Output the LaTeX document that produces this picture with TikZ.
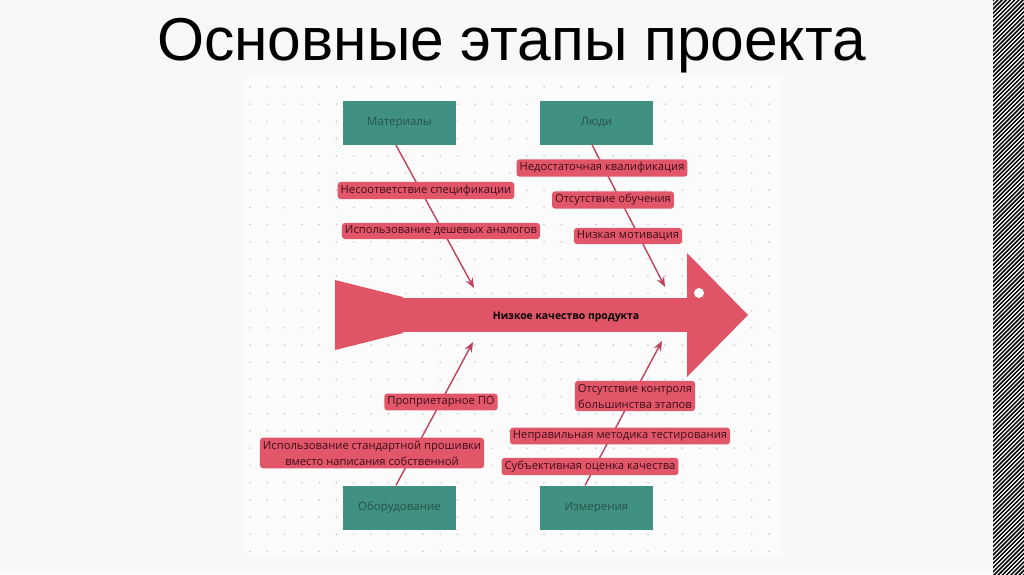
\documentclass[tikz,border=0pt]{standalone}
\usepackage{fontspec}
\setmainfont{Open Sans}
\newfontfamily\titlefont{Liberation Sans}
\usetikzlibrary{arrows.meta}
\definecolor{pagebg}{RGB}{248,248,248}
\definecolor{panelbg}{RGB}{252,251,252}
\definecolor{dotc}{RGB}{208,206,208}
\definecolor{teal}{RGB}{64,145,130}
\definecolor{tealtext}{RGB}{40,82,78}
\definecolor{fish}{RGB}{224,84,104}
\definecolor{lab}{RGB}{226,86,106}
\definecolor{labtext}{RGB}{62,14,24}
\definecolor{conn}{RGB}{190,66,92}
\tikzset{
  cause/.style={fill=teal, text=tealtext, minimum width=113pt, minimum height=44pt, inner sep=0pt, font=\fontsize{11.5}{13}\selectfont},
  lbl/.style={fill=lab, text=labtext, rounded corners=3pt, inner xsep=3pt, inner ysep=3pt, align=center, font=\fontsize{11.2}{16}\selectfont},
  connector/.style={draw=conn, line width=1.4pt, -{Stealth[length=10pt,width=8pt]}}
}
\begin{document}
\begin{tikzpicture}[x=1pt,y=-1pt]
\useasboundingbox (0,0) rectangle (1024,574);
\fill[pagebg] (0,0) rectangle (1024,574);
\fill[panelbg] (243,75) rectangle (782,557);
\foreach \i in {0,...,30}{
  \foreach \j in {0,...,27}{
    \fill[dotc] ({250+17.3*\i},{87+17.2*\j}) circle (1);
  }
}
% hatched strip
\begin{scope}
\clip (993,0) rectangle (1024,574);
\fill[white] (993,0) rectangle (1024,574);
\foreach \k in {0,...,175}{
  \draw[black, line width=1.5pt] (960,{4.2*\k}) -- (1040,{4.2*\k-80});
}
\end{scope}
% title
\node[anchor=base, font=\titlefont\fontsize{60.5}{62}\selectfont, text=black, inner sep=0pt] (title) at (511.5,60) {Основные этапы проекта};
% cause boxes
\node[cause] (mat) at (399.5,123) {Материалы};
\node[cause] (ppl) at (596.5,122.5) {Люди};
\node[cause] (equip) at (399.5,507.5) {Оборудование};
\node[cause] (meas) at (596.5,507.5) {Измерения};
% fish
\fill[fish] (335,280) -- (403,297) -- (403,333) -- (335,350) -- cycle;
\fill[fish] (402,298) rectangle (688,332);
\fill[fish] (687,253) -- (748,315) -- (687,377) -- cycle;
\fill[white] (699,293) circle (5);
\node[font=\bfseries\fontsize{10.4}{12}\selectfont, text=black] (effect) at (566,317) {Низкое качество продукта};
% arrow tips
\coordinate (tA) at (474,288);
\coordinate (tB) at (665,287);
\coordinate (tC) at (473,342);
\coordinate (tD) at (662,341);
\draw[connector] ([xshift=-3.5pt]mat.south) -- (tA);
\draw[connector] ([xshift=-4.5pt]ppl.south) -- (tB);
\draw[connector] ([xshift=-3.5pt]equip.north) -- (tC);
\draw[connector] ([xshift=-11.5pt]meas.north) -- (tD);
% labels
\node[lbl] (l1) at (426,190.5) {Несоответствие спецификации};
\node[lbl] (l2) at (441,231) {Использование дешевых аналогов};
\node[lbl] (l3) at (602,168) {Недостаточная квалификация};
\node[lbl] (l4) at (613,200) {Отсутствие обучения};
\node[lbl] (l5) at (628,236) {Низкая мотивация};
\node[lbl] (l6) at (441,402) {Проприетарное ПО};
\node[lbl] (l7) at (372,453) {Использование стандартной прошивки\\вместо написания собственной};
\node[lbl] (l8) at (635,396) {Отсутствие контроля\\большинства этапов};
\node[lbl] (l9) at (620,436) {Неправильная методика тестирования};
\node[lbl] (l10) at (590,466.5) {Субъективная оценка качества};
\end{tikzpicture}
\end{document}
